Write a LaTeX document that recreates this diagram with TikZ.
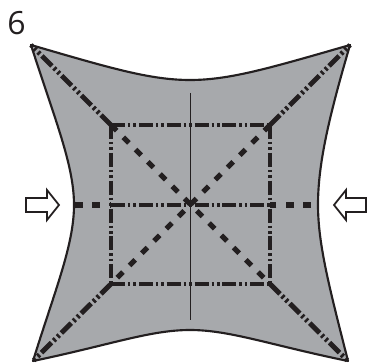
\documentclass[tikz,border=0pt]{standalone}
\usepackage{fontspec}
\setmainfont{Open Sans}
\definecolor{ink}{HTML}{231F20}
\definecolor{sail}{HTML}{A7A9AC}
\tikzset{
  outline/.style={draw=ink,line width=1.6,fill=sail,line join=round},
  chain/.style={draw=ink,line width=3.7,dash pattern=on 10.5 off 2.2 on 1.9 off 2.2 on 1.9 off 2.2},
  dots/.style={draw=ink,line width=3.8,dash pattern=on 6 off 7},
  axis/.style={draw=ink,line width=0.6},
  flowarrow/.style={draw=ink,line width=1.3,fill=white,miter limit=10},
}
\begin{document}
\begin{tikzpicture}[x=0.75pt,y=-0.75pt]
\useasboundingbox (0,0) rectangle (367,363);
\coordinate (TL) at (31,45);
\coordinate (TR) at (350,45);
\coordinate (BL) at (33,361);
\coordinate (BR) at (348,361);
\coordinate (a) at (111,125);
\coordinate (b) at (270,125);
\coordinate (c) at (270,284);
\coordinate (d) at (111,284);
\coordinate (O) at (190,205);
\coordinate (W) at (75,205);
\coordinate (E) at (311,205);
\coordinate (N) at (190,93);
\coordinate (S) at (190,320);
\path[outline] (TL) .. controls (110,68) and (150,80) .. (190,80)
  .. controls (230,80) and (270,68) .. (TR)
  .. controls (328,120) and (318,165) .. (318,205)
  .. controls (318,245) and (330,290) .. (BR)
  .. controls (270,345) and (230,330) .. (190,330)
  .. controls (150,330) and (110,345) .. (BL)
  .. controls (55,290) and (74,245) .. (74,205)
  .. controls (74,165) and (55,120) .. (TL) -- cycle;
\draw[axis] (N) -- (S);
\draw[dots] (a) -- (c);
\draw[dots] (b) -- (d);
\draw[dots] (W) -- (a |- W);
\draw[dots] (E) -- (b |- E);
\draw[chain] (a) -- (TL);
\draw[chain] (b) -- (TR);
\draw[chain] (c) -- (BR);
\draw[chain] (d) -- (BL);
\draw[chain] (a |- O) -- (b |- O);
\draw[chain] (a) -- (b);
\draw[chain] (d) -- (c);
\draw[chain] (a) -- (d);
\draw[chain] (b) -- (c);
\draw[flowarrow] (26,198) -- (47,198) -- (47,190) -- (59,205) -- (47,220) -- (47,212) -- (26,212) -- cycle;
\draw[flowarrow] (366,198) -- (346,198) -- (346,190) -- (334,205) -- (346,220) -- (346,212) -- (366,212) -- cycle;
\node[text=ink,font=\fontsize{24}{24}\selectfont,inner sep=0pt] (num) at (16.5,23.5) {6};
\end{tikzpicture}
\end{document}
